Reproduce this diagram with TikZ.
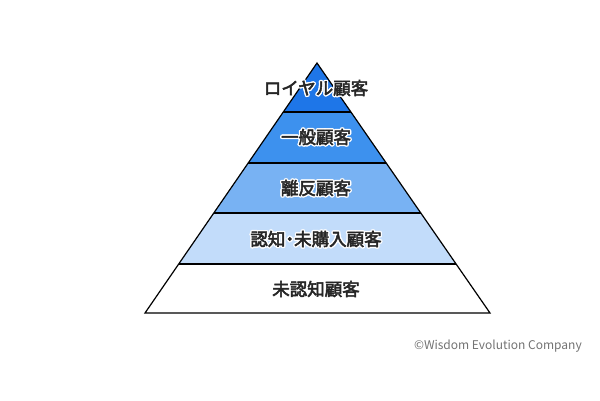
\documentclass[tikz,border=0pt]{standalone}
\usepackage{fontspec}
\newfontfamily\cjk{Noto Sans CJK JP}[FakeBold=3]
\newfontfamily\cjkr{Noto Sans CJK JP}
\usetikzlibrary{calc}
\definecolor{c1}{HTML}{1E76E8}
\definecolor{c2}{HTML}{3D91EE}
\definecolor{c3}{HTML}{78B2F3}
\definecolor{c4}{HTML}{C2DCFA}
\newcommand{\halo}[1]{%
\foreach \dx/\dy in {1.4/0,-1.4/0,0/1.4,0/-1.4,1/1,-1/1,1/-1,-1/-1}{\node[lbl,white] at ([shift={(\dx pt,\dy pt)}]0,0) {#1};}%
\node[lbl,black!85] at (0,0) {#1};}
\begin{document}
\begin{tikzpicture}[x=1pt,y=-1pt,lbl/.style={font=\cjk\fontsize{17.5}{18}\selectfont,inner sep=0}]
\useasboundingbox (0,0) rectangle (600,400);
\fill[white] (0,0) rectangle (600,400);
\coordinate (A) at (317,63);
\coordinate (L) at (145,313);
\coordinate (R) at (490,313);
\foreach \i/\t in {1/0.196,2/0.4,3/0.6,4/0.804}{
  \coordinate (l\i) at ($(A)!\t!(L)$);
  \coordinate (r\i) at ($(A)!\t!(R)$);
}
\fill[c1] (A) -- (r1) -- (l1) -- cycle;
\fill[c2] (l1) -- (r1) -- (r2) -- (l2) -- cycle;
\fill[c3] (l2) -- (r2) -- (r3) -- (l3) -- cycle;
\fill[c4] (l3) -- (r3) -- (r4) -- (l4) -- cycle;
\draw[line width=1.2pt,line join=miter] (A) -- (R) -- (L) -- cycle;
\foreach \i in {1,...,4} \draw[line width=1.2pt] (l\i) -- (r\i);
\begin{scope}[shift={(316,88)}]\halo{ロイヤル顧客}\end{scope}
\begin{scope}[shift={(316,137)}]\halo{一般顧客}\end{scope}
\begin{scope}[shift={(316,188)}]\halo{離反顧客}\end{scope}
\begin{scope}[shift={(316,239)}]\halo{認知\kern-0.25em・\kern-0.25em未購入顧客}\end{scope}
\begin{scope}[shift={(316,289)}]\halo{未認知顧客}\end{scope}
\node[anchor=east,font=\cjkr\fontsize{12}{12}\selectfont,text=black!55,inner sep=0] (cr) at (582,346) {©Wisdom Evolution Company};
\end{tikzpicture}
\end{document}
